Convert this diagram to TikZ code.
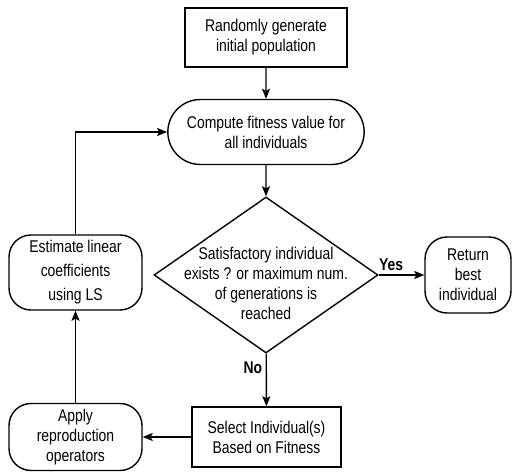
\documentclass[tikz,border=0pt]{standalone}
\usepackage{fontspec}
\setmainfont{Liberation Sans}[FakeStretch=0.82]
\usetikzlibrary{shapes.geometric,shapes.misc,arrows.meta}
\tikzset{
  procbox/.style={rectangle, draw, line width=1.4pt, align=center, inner sep=0pt},
  termbox/.style={rectangle, draw, line width=1.4pt, rounded corners=22pt, align=center, inner sep=0pt},
  decbox/.style={diamond, draw, line width=1.4pt, inner sep=0pt},
  flow/.style={-{Stealth[length=10pt,width=8pt,inset=2pt]}, line width=1.4pt}
}
\begin{document}
\begin{tikzpicture}[x=1pt, y=-1pt, font=\fontsize{17}{20}\selectfont]
  \useasboundingbox (0,0) rectangle (512,473);
  % Nodes
  \node (init) [procbox, minimum width=162pt, minimum height=59pt] at (266,37.5) {Randomly generate\\initial population};
  \node (fit) [rounded rectangle, draw, line width=1.4pt, align=center, minimum width=203pt, minimum height=65pt] at (266,132) {Compute fitness value for\\all individuals};
  \node (dec) [decbox, minimum width=224pt, minimum height=156pt] at (266,275) {};
  \node (dectext) [align=center] at (266,283) {Satisfactory individual\\exists ? or maximum num.\\of generations is\\reached};
  \node (ret) [termbox, minimum width=86pt, minimum height=76pt] at (468,275) {Return\\best\\individual};
  \node (sel) [procbox, minimum width=149pt, minimum height=60pt] at (266.5,437) {Select Individual(s)\\Based on Fitness};
  \node (apply) [termbox, minimum width=133pt, minimum height=67pt] at (75.5,437) {Apply\\reproduction\\operators};
  \node (est) [termbox, minimum width=133pt, minimum height=75pt, font=\fontsize{17}{24}\selectfont] at (75.5,272.5) {Estimate linear\\coefficients\\using LS};
  % Arrow
  \draw[flow] (init) -- (fit);
  \draw[flow] (fit) -- (dec);
  \draw[flow] (dec) -- node (yes) [above, pos=0.27, font=\fontsize{17}{20}\bfseries] {Yes} (ret);
  \draw[flow] (dec) -- node (no) [left, pos=0.26, font=\fontsize{17}{20}\bfseries] {No} (sel);
  \draw[flow] (sel) -- (apply);
  \draw[flow] (apply) -- (est);
  \draw[flow] (est) |- (fit);
\end{tikzpicture}
\end{document}
